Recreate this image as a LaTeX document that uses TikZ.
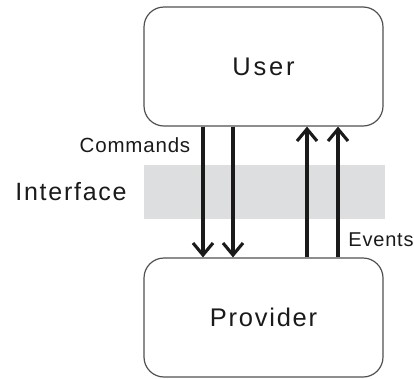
\documentclass[tikz,border=0pt]{standalone}
\usepackage{fontspec}
\setmainfont{Liberation Sans}
\newfontfamily\fA{Liberation Sans}[LetterSpace=11]
\newfontfamily\fB{Liberation Sans}[LetterSpace=7]
\newfontfamily\fC{Liberation Sans}[LetterSpace=4]
\usetikzlibrary{arrows.meta}
\definecolor{band}{HTML}{DCDEE0}
\definecolor{boxline}{HTML}{505050}
\definecolor{ink}{HTML}{1A1A1A}
\begin{document}
\begin{tikzpicture}[x=1pt,y=-1pt,
  boxnode/.style={draw=boxline,line width=1.2pt,rounded corners=20pt,minimum width=239pt,minimum height=119pt,inner sep=0pt,text=ink},
  lbl/.style={text=ink,inner sep=0pt},
  arr/.style={draw=ink,line width=3.1pt,-{Straight Barb[length=12pt,width=20pt,line width=3.1pt]}}]
\useasboundingbox (0,0) rectangle (414,378);
\node[fill=band,minimum width=241pt,minimum height=54pt,inner sep=0pt] (band) at (264.5,192) {};
\node[boxnode,font=\fA\fontsize{25.5}{28}\selectfont] (user) at (263.5,66.5) {User};
\node[boxnode,font=\fB\fontsize{25.5}{28}\selectfont] (prov) at (263.5,317.5) {Provider};
\node[lbl,font=\fC\fontsize{20.5}{22}\selectfont] (cmd) at (135,145) {Commands};
\node[lbl,font=\fB\fontsize{25}{27}\selectfont] (intf) at (71,192) {Interface};
\node[lbl,font=\fC\fontsize{20}{22}\selectfont] (evt) at (381,240) {Events};
\draw[arr] ([xshift=-60.5pt]user.south) -- ([xshift=-60.5pt]prov.north);
\draw[arr] ([xshift=-30.5pt]user.south) -- ([xshift=-30.5pt]prov.north);
\draw[arr] ([xshift=43.5pt]prov.north) -- ([xshift=43.5pt]user.south);
\draw[arr] ([xshift=74.5pt]prov.north) -- ([xshift=74.5pt]user.south);
\end{tikzpicture}
\end{document}
